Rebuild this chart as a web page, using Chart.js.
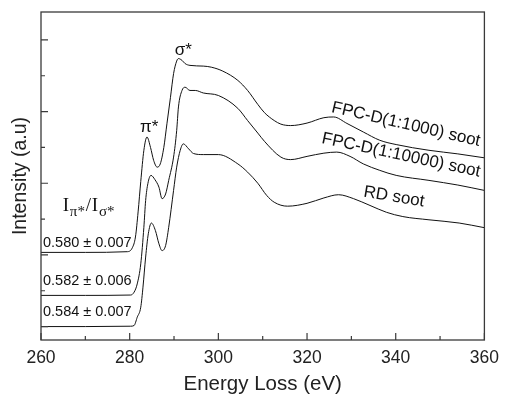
<!DOCTYPE html>
<html>
<head>
<meta charset="utf-8">
<script src="https://cdn.jsdelivr.net/npm/chart.js@4.4.1/dist/chart.umd.min.js"></script>
<style>
  html, body { margin: 0; padding: 0; background: #fff; }
  #wrap { width: 507px; height: 397px; }
</style>
</head>
<body>
<div id="wrap"><canvas id="eels"></canvas></div>
<script>
// FPC-D(1:1000) soot (top trace)
const energyTop = [260, 270, 279.5, 280.6, 281.3, 281.9, 282.5, 283.2, 283.9, 284.7, 285.4, 286.2, 286.9, 287.7, 288.4, 289.2, 289.9, 290.6, 291.0, 291.8, 292.5, 293.6, 296.6, 298.4, 301, 304.4, 306.6, 308.9, 310.4, 312.6, 314.1, 316.3, 320, 323.8, 326, 329, 332.7, 336.4, 340.1, 347.5, 354, 360]
const intensityTop = [2.07, 2.07, 2.09, 2.2, 2.5, 3.2, 4.05, 4.92, 5.29, 5.0, 4.64, 4.45, 4.54, 5.0, 5.66, 6.4, 7.06, 7.41, 7.48, 7.43, 7.34, 7.29, 7.27, 7.24, 7.13, 6.87, 6.59, 6.2, 5.97, 5.75, 5.65, 5.61, 5.68, 5.83, 5.85, 5.67, 5.43, 5.2, 5.08, 4.92, 4.82, 4.71]

// FPC-D(1:10000) soot (middle trace)
const energyMid = [260, 270, 280.2, 281.0, 281.7, 282.5, 283.2, 283.6, 284.1, 284.8, 285.7, 286.6, 287.3, 288.1, 288.8, 289.9, 290.6, 291.0, 291.8, 292.5, 293.6, 294.8, 296.6, 300, 304.4, 306.6, 308.9, 310.4, 314.1, 316.3, 320, 323.8, 326.7, 329.7, 332.7, 336.4, 340.1, 347.5, 354, 360]
const intensityMid = [0.87, 0.87, 0.88, 0.96, 1.19, 1.75, 2.77, 3.52, 3.99, 4.22, 4.1, 3.89, 3.57, 3.7, 4.08, 4.73, 5.47, 6.13, 6.59, 6.68, 6.59, 6.59, 6.52, 6.45, 6.09, 5.75, 5.4, 5.17, 4.73, 4.66, 4.75, 4.84, 4.87, 4.75, 4.54, 4.36, 4.22, 4.08, 3.95, 3.8]

// RD soot (bottom trace)
const energyLow = [260, 270, 280.2, 281.0, 281.7, 282.5, 283.0, 283.6, 284.2, 284.9, 285.8, 286.6, 287.3, 288.1, 288.8, 289.9, 290.6, 291.4, 292.1, 293.3, 294.4, 296.6, 300, 304.4, 306.6, 308.9, 310.9, 312.6, 315.6, 320, 323.8, 327.1, 330.5, 334.2, 337.9, 341.6, 347.5, 354.3, 360]
const intensityLow = [0.0, 0.0, 0.01, 0.03, 0.26, 0.54, 1.1, 1.94, 2.59, 2.89, 2.68, 2.31, 2.12, 2.26, 2.77, 3.8, 4.45, 4.92, 5.1, 4.96, 4.83, 4.8, 4.8, 4.54, 4.31, 4.0, 3.66, 3.47, 3.36, 3.44, 3.59, 3.68, 3.57, 3.38, 3.19, 3.07, 2.98, 2.89, 2.76]

const xMajorTicks = [260, 280, 300, 320, 340, 360]
const xMinorTicks = [270, 290, 310, 330, 350]
const yMajorTicks = [0, 2, 4, 6, 8]
const yMinorTicks = [1, 3, 5, 7]

const ratioLabels = ['0.580 \u00b1 0.007', '0.582 \u00b1 0.006', '0.584 \u00b1 0.007']
const traceLabels = ['FPC-D(1:1000) soot', 'FPC-D(1:10000) soot', 'RD soot']

const toPoints = (xs, ys) => xs.map((x, i) => ({x: x, y: ys[i]}))

const ink = '#111'
const frameColor = '#3a3a3a'

const decorations = {
    id: 'decorations',
    afterDraw(chart) {
        const {ctx, chartArea: a, scales: {x, y}} = chart
        ctx.save()
        // ticks pointing inward
        ctx.strokeStyle = frameColor
        ctx.lineWidth = 1.2
        ctx.beginPath()
        xMajorTicks.forEach(v => { const px = x.getPixelForValue(v); ctx.moveTo(px, a.bottom); ctx.lineTo(px, a.bottom - 7) })
        xMinorTicks.forEach(v => { const px = x.getPixelForValue(v); ctx.moveTo(px, a.bottom); ctx.lineTo(px, a.bottom - 4) })
        yMajorTicks.forEach(v => { const py = y.getPixelForValue(v); ctx.moveTo(a.left, py); ctx.lineTo(a.left + 7, py) })
        yMinorTicks.forEach(v => { const py = y.getPixelForValue(v); ctx.moveTo(a.left, py); ctx.lineTo(a.left + 4, py) })
        ctx.stroke()
        ctx.lineWidth = 1.3
        ctx.strokeRect(a.left, a.top, a.right - a.left, a.bottom - a.top)

        ctx.fillStyle = ink
        // peak names
        ctx.font = '17px "Liberation Sans", Arial, sans-serif'
        ctx.textAlign = 'center'
        ctx.textBaseline = 'alphabetic'
        ctx.fillText('\u03c3*', x.getPixelForValue(292.1), y.getPixelForValue(7.57))
        ctx.fillText('\u03c0*', x.getPixelForValue(284.4), y.getPixelForValue(5.43))

        // rotated trace names
        const rot = [[342.3, 5.64, 13], [341.2, 4.78, 12], [339.6, 3.62, 9.5]]
        ctx.font = '17px "Liberation Sans", Arial, sans-serif'
        ctx.textBaseline = 'middle'
        rot.forEach((r, i) => {
            ctx.save()
            ctx.translate(x.getPixelForValue(r[0]), y.getPixelForValue(r[1]))
            ctx.rotate(r[2] * Math.PI / 180)
            ctx.fillText(traceLabels[i], 0, 0)
            ctx.restore()
        })

        // ratio values
        ctx.font = '14.5px "Liberation Sans", Arial, sans-serif'
        ctx.textAlign = 'left'
        const ratioY = [2.34, 1.28, 0.40]
        ratioLabels.forEach((t, i) => {
            ctx.fillText(t, x.getPixelForValue(260.45), y.getPixelForValue(ratioY[i]))
        })

        // I_pi*/I_sigma* heading
        ctx.textBaseline = 'alphabetic'
        let px = x.getPixelForValue(264.9)
        const py = y.getPixelForValue(3.22)
        const parts = [['I', false], ['\u03c0*', true], ['/', false], ['I', false], ['\u03c3*', true]]
        parts.forEach(([t, sub]) => {
            ctx.font = sub ? '15px "Liberation Serif", "Times New Roman", serif' : '19px "Liberation Serif", "Times New Roman", serif'
            ctx.fillText(t, px, py + (sub ? 4.5 : 0))
            px += ctx.measureText(t).width + 0.8
        })
        ctx.restore()
    }
}

Chart.defaults.font.family = '"Liberation Sans", Arial, sans-serif'
Chart.defaults.color = ink

const lineStyle = {
    borderColor: ink,
    borderWidth: 1,
    pointRadius: 0,
    fill: false,
    cubicInterpolationMode: 'monotone'
}

new Chart(document.getElementById('eels'), {
    type: 'line',
    data: {
        datasets: [
            {label: traceLabels[0], data: toPoints(energyTop, intensityTop), ...lineStyle},
            {label: traceLabels[1], data: toPoints(energyMid, intensityMid), ...lineStyle},
            {label: traceLabels[2], data: toPoints(energyLow, intensityLow), ...lineStyle}
        ]
    },
    options: {
        responsive: true,
        maintainAspectRatio: false,
        animation: false,
        layout: {padding: {top: 12, right: 18, left: 0, bottom: 0}},
        plugins: {
            legend: {display: false},
            tooltip: {enabled: false}
        },
        scales: {
            x: {
                type: 'linear',
                min: 260,
                max: 360,
                grid: {display: false, drawTicks: false},
                border: {display: false},
                ticks: {stepSize: 20, padding: 8, color: '#222', font: {size: 17.5}},
                title: {display: true, text: 'Energy Loss (eV)', color: '#222', font: {size: 20.5}, padding: {top: 0, bottom: 0}},
                afterFit: s => { s.height = 57 }
            },
            y: {
                type: 'linear',
                min: -0.375,
                max: 8.78,
                grid: {display: false, drawTicks: false},
                border: {display: false},
                ticks: {display: false},
                title: {display: true, text: 'Intensity (a.u)', color: '#222', font: {size: 19.5}, padding: {top: 9, bottom: 0}},
                afterFit: s => { s.width = 41 }
            }
        }
    },
    plugins: [decorations]
})
</script>
</body>
</html>
